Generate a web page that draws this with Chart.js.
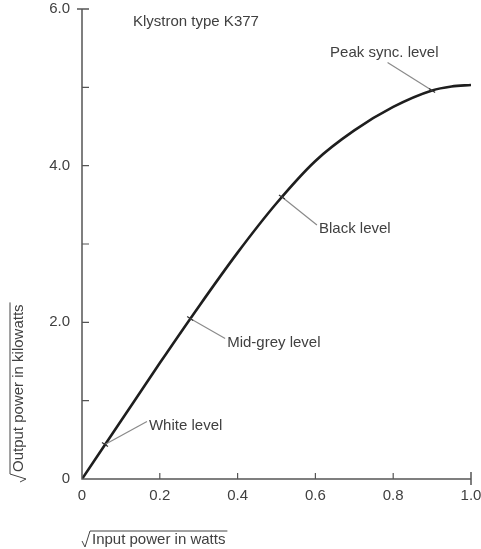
<!DOCTYPE html>
<html>
<head>
<meta charset="utf-8">
<script src="https://cdn.jsdelivr.net/npm/chart.js@4/dist/chart.umd.min.js"></script>
<style>
  html, body { margin: 0; padding: 0; background: #fff; }
  #wrap { width: 481px; height: 549px; }
</style>
</head>
<body>
<div id="wrap"><canvas id="klystron" width="481" height="549"></canvas></div>
<script>
// sqrt input power (W) vs sqrt output power (kW)
const inputRoot = [0, 0.1, 0.2, 0.3, 0.4, 0.5, 0.6, 0.7, 0.8, 0.9, 0.95, 1.0];
const outputRoot = [0, 0.74, 1.48, 2.20, 2.89, 3.52, 4.06, 4.45, 4.75, 4.96, 5.01, 5.03];

// level markers on the curve
const levelNames = ["White level", "Mid-grey level", "Black level", "Peak sync. level"];
const levelX = [0.059, 0.278, 0.514, 0.90];
const levelY = [0.44, 2.05, 3.60, 4.96];

const xTicks = [0, 0.2, 0.4, 0.6, 0.8, 1.0];
const yTickLabels = { 0: "0", 2: "2.0", 4: "4.0", 6: "6.0" };

const chartTitle = "Klystron type K377";
const xTitle = "Input power in watts";
const yTitle = "Output power in kilowatts";

// where each level label sits (pixel offsets from its marker) - styling only
const labelOffsets = [[44, -19], [37, 24], [37, 32], [-102, -38]];

const FONT = "Liberation Sans, Arial, sans-serif";
const TEXT = "#404040";

const points = inputRoot.map((x, i) => ({x: x, y: outputRoot[i]}));

const decor = {
  id: "decor",
  afterDraw(chart) {
    const ctx = chart.ctx;
    const xs = chart.scales.x, ys = chart.scales.y;
    const a = chart.chartArea;
    ctx.save();

    // axes
    ctx.strokeStyle = "#555";
    ctx.lineWidth = 1.5;
    ctx.beginPath();
    ctx.moveTo(a.left, a.top);
    ctx.lineTo(a.left, a.bottom);
    ctx.lineTo(a.right, a.bottom);
    ctx.stroke();
    // end caps
    ctx.beginPath();
    ctx.moveTo(a.left - 5, a.top); ctx.lineTo(a.left + 7, a.top);
    ctx.moveTo(a.right, a.bottom - 7); ctx.lineTo(a.right, a.bottom + 6);
    ctx.stroke();

    // inner ticks
    ctx.lineWidth = 1.2;
    ctx.beginPath();
    for (let v = 1; v < 6; v++) {
      const py = ys.getPixelForValue(v);
      ctx.moveTo(a.left, py); ctx.lineTo(a.left + 7, py);
    }
    xTicks.slice(1, -1).forEach(v => {
      const px = xs.getPixelForValue(v);
      ctx.moveTo(px, a.bottom); ctx.lineTo(px, a.bottom - 6);
    });
    ctx.stroke();

    // level markers + leaders + labels
    ctx.font = "15px " + FONT;
    ctx.textBaseline = "middle";
    levelNames.forEach((name, i) => {
      const px = xs.getPixelForValue(levelX[i]);
      const py = ys.getPixelForValue(levelY[i]);
      const [dx, dy] = labelOffsets[i];
      const tx = px + dx, ty = py + dy;
      const tw = ctx.measureText(name).width;
      ctx.strokeStyle = "#8a8a8a";
      ctx.lineWidth = 1.2;
      ctx.beginPath();
      ctx.moveTo(px, py);
      if (i === 3) ctx.lineTo(tx + tw * 0.53, ty + 10);
      else ctx.lineTo(tx - 2, ty - 4);
      ctx.stroke();
      // little cross mark on the curve
      ctx.strokeStyle = "#333";
      ctx.lineWidth = 1.2;
      ctx.beginPath();
      ctx.moveTo(px - 3, py - 2); ctx.lineTo(px + 3, py + 2);
      ctx.stroke();
      ctx.fillStyle = TEXT;
      ctx.textAlign = "left";
      ctx.fillText(name, tx, ty);
    });

    // title
    ctx.fillStyle = TEXT;
    ctx.textAlign = "left";
    ctx.fillText(chartTitle, 133, 22);

    // x title with root sign
    drawRootText(ctx, xTitle, 84, 540);

    // y title, rotated
    ctx.translate(19, 385);
    ctx.rotate(-Math.PI / 2);
    drawRootText(ctx, yTitle, -95, 0);
    ctx.restore();
  }
};

function drawRootText(ctx, text, x, y) {
  ctx.font = "15px " + FONT;
  ctx.fillStyle = TEXT;
  ctx.textAlign = "left";
  ctx.textBaseline = "middle";
  const w = ctx.measureText(text).width;
  ctx.strokeStyle = "#444";
  ctx.lineWidth = 1;
  ctx.beginPath();
  ctx.moveTo(x - 2, y + 1);
  ctx.lineTo(x + 1, y + 7);
  ctx.lineTo(x + 6, y - 9);
  ctx.lineTo(x + 10 + w, y - 9);
  ctx.stroke();
  ctx.fillText(text, x + 8, y);
}

new Chart(document.getElementById("klystron"), {
  type: "line",
  data: {
    datasets: [{
      data: points,
      borderColor: "#1e1e1e",
      borderWidth: 2.6,
      pointRadius: 0,
      cubicInterpolationMode: "monotone",
      fill: false
    }]
  },
  options: {
    responsive: false,
    animation: false,
    layout: { padding: { top: 9, right: 10, left: 0, bottom: 0 } },
    plugins: { legend: { display: false }, tooltip: { enabled: false } },
    scales: {
      x: {
        type: "linear",
        min: 0, max: 1,
        afterBuildTicks: s => { s.ticks = xTicks.map(v => ({value: v})); },
        afterFit: s => { s.height = 70; s.paddingLeft = 0; s.paddingRight = 0; },
        border: { display: false },
        grid: { display: false, drawTicks: false },
        ticks: {
          padding: 8,
          color: TEXT,
          font: { family: FONT, size: 15 },
          callback: v => v === 0 ? "0" : v.toFixed(1)
        }
      },
      y: {
        type: "linear",
        min: 0, max: 6,
        afterBuildTicks: s => { s.ticks = [0, 2, 4, 6].map(v => ({value: v})); },
        afterFit: s => { s.width = 82; s.paddingTop = 0; s.paddingBottom = 0; },
        border: { display: false },
        grid: { display: false, drawTicks: false },
        ticks: {
          padding: 12,
          color: TEXT,
          font: { family: FONT, size: 15 },
          callback: v => yTickLabels[v]
        }
      }
    }
  },
  plugins: [decor]
});
</script>
</body>
</html>
